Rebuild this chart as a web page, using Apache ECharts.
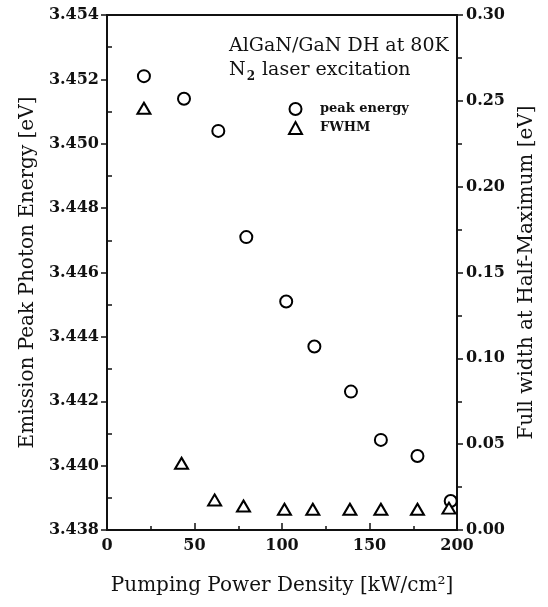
<!DOCTYPE html>
<html>
<head>
<meta charset="utf-8">
<script src="https://cdn.jsdelivr.net/npm/echarts@6/dist/echarts.min.js"></script>
<style>
html,body{margin:0;padding:0;background:#fff;}
#c{width:548px;height:607px;}
</style>
</head>
<body>
<div id="c"></div>
<script>
// Data
const powerPeak = [21.1, 44.0, 63.6, 79.6, 102.4, 118.5, 139.4, 156.5, 177.4, 196.4];
const peakEnergy = [3.4521, 3.4514, 3.4504, 3.4471, 3.4451, 3.4437, 3.4423, 3.4408, 3.4403, 3.4389];
const powerFwhm = [21.1, 42.6, 61.5, 78.0, 101.4, 117.6, 138.8, 156.5, 177.4, 195.4];
const fwhm = [0.2457, 0.0389, 0.0175, 0.0140, 0.0121, 0.0121, 0.0121, 0.0121, 0.0121, 0.0127];
const xTicks = [0, 50, 100, 150, 200];
const seriesNames = ['peak energy', 'FWHM'];
const noteLines = ['AlGaN/GaN DH at 80K', '{m|N}{sub|2}{m| laser excitation}'];

const SERIF = '"DejaVu Serif", "Liberation Serif", serif';
const chart = echarts.init(document.getElementById('c'), null, {renderer: 'canvas'});

const tickLabel = {fontFamily: SERIF, fontWeight: 'bold', fontSize: 16, color: '#111'};

chart.setOption({
  animation: false,
  backgroundColor: '#fff',
  grid: {left: 107, right: 91, top: 15, bottom: 77, show: true, borderColor: '#111', borderWidth: 2, backgroundColor: 'transparent'},
  legend: {
    orient: 'vertical', left: 283, top: 97, itemGap: 5, itemWidth: 13, itemHeight: 12,
    data: seriesNames,
    itemStyle: {opacity: 1},
    textStyle: {fontFamily: SERIF, fontWeight: 'bold', fontSize: 13, color: '#111', padding: [0, 0, 0, 13]}
  },
  graphic: [
    {type: 'text', left: 229, top: 37, style: {text: noteLines[0], font: '19px ' + SERIF, fill: '#111'}},
    {type: 'text', left: 229, top: 61, style: {
      text: noteLines[1], font: '19px ' + SERIF, fill: '#111',
      rich: {
        m: {fontSize: 19, fontFamily: SERIF, fill: '#111', lineHeight: 22, verticalAlign: 'top'},
        sub: {fontSize: 12, fontFamily: SERIF, fontWeight: 'bold', fill: '#111', lineHeight: 12, verticalAlign: 'bottom', padding: [0, 1, 0, 1]}
      }
    }}
  ],
  xAxis: {
    type: 'value', min: xTicks[0], max: xTicks[xTicks.length - 1], interval: 50,
    name: 'Pumping Power Density [kW/cm\u00B2]', nameLocation: 'middle', nameGap: 46,
    nameTextStyle: {fontFamily: SERIF, fontSize: 20, color: '#111'},
    axisLine: {lineStyle: {color: '#111', width: 2}},
    axisTick: {inside: true, length: 7, lineStyle: {color: '#111', width: 1.5}},
    minorTick: {show: true, splitNumber: 2, length: 4, lineStyle: {color: '#111', width: 1.5}},
    splitLine: {show: false},
    axisLabel: Object.assign({margin: 8}, tickLabel)
  },
  yAxis: [
    {
      type: 'value', min: 3.438, max: 3.454, interval: 0.002, position: 'left',
      name: 'Emission Peak Photon Energy [eV]', nameLocation: 'middle', nameGap: 66, nameRotate: 90,
      nameTextStyle: {fontFamily: SERIF, fontSize: 20, color: '#111'},
      axisLine: {show: true, lineStyle: {color: '#111', width: 2}},
      axisTick: {show: false, inside: true},
      minorTick: {show: true, splitNumber: 2, length: 5, lineStyle: {color: '#111', width: 1.5}},
      splitLine: {show: false},
      axisLabel: Object.assign({margin: 8, formatter: v => v.toFixed(3)}, tickLabel)
    },
    {
      type: 'value', min: 0, max: 0.3, interval: 0.05, position: 'right',
      name: 'Full width at Half-Maximum [eV]', nameLocation: 'middle', nameGap: 60, nameRotate: 90,
      nameTextStyle: {fontFamily: SERIF, fontSize: 20, color: '#111'},
      axisLine: {show: true, lineStyle: {color: '#111', width: 2}},
      axisTick: {inside: false, length: 6, lineStyle: {color: '#111', width: 1.5}},
      minorTick: {show: true, splitNumber: 2, length: 5, lineStyle: {color: '#111', width: 1.5}},
      splitLine: {show: false},
      axisLabel: Object.assign({margin: 9, formatter: v => v.toFixed(2)}, tickLabel)
    },
    {
      type: 'value', min: 3.438, max: 3.454, interval: 0.002, position: 'left',
      axisLine: {show: false}, axisLabel: {show: false}, splitLine: {show: false},
      axisTick: {show: true, inside: false, length: 6, lineStyle: {color: '#111', width: 1.5}}
    }
  ],
  series: [
    {
      name: seriesNames[0], type: 'scatter', yAxisIndex: 0, symbol: 'circle', symbolSize: 12,
      itemStyle: {color: '#fff', borderColor: '#000', borderWidth: 2, opacity: 1},
      data: powerPeak.map((x, i) => [x, peakEnergy[i]])
    },
    {
      name: seriesNames[1], type: 'scatter', yAxisIndex: 1, symbol: 'triangle', symbolSize: [13, 11],
      itemStyle: {color: '#fff', borderColor: '#000', borderWidth: 2, opacity: 1},
      data: powerFwhm.map((x, i) => [x, fwhm[i]])
    }
  ]
});
</script>
</body>
</html>
